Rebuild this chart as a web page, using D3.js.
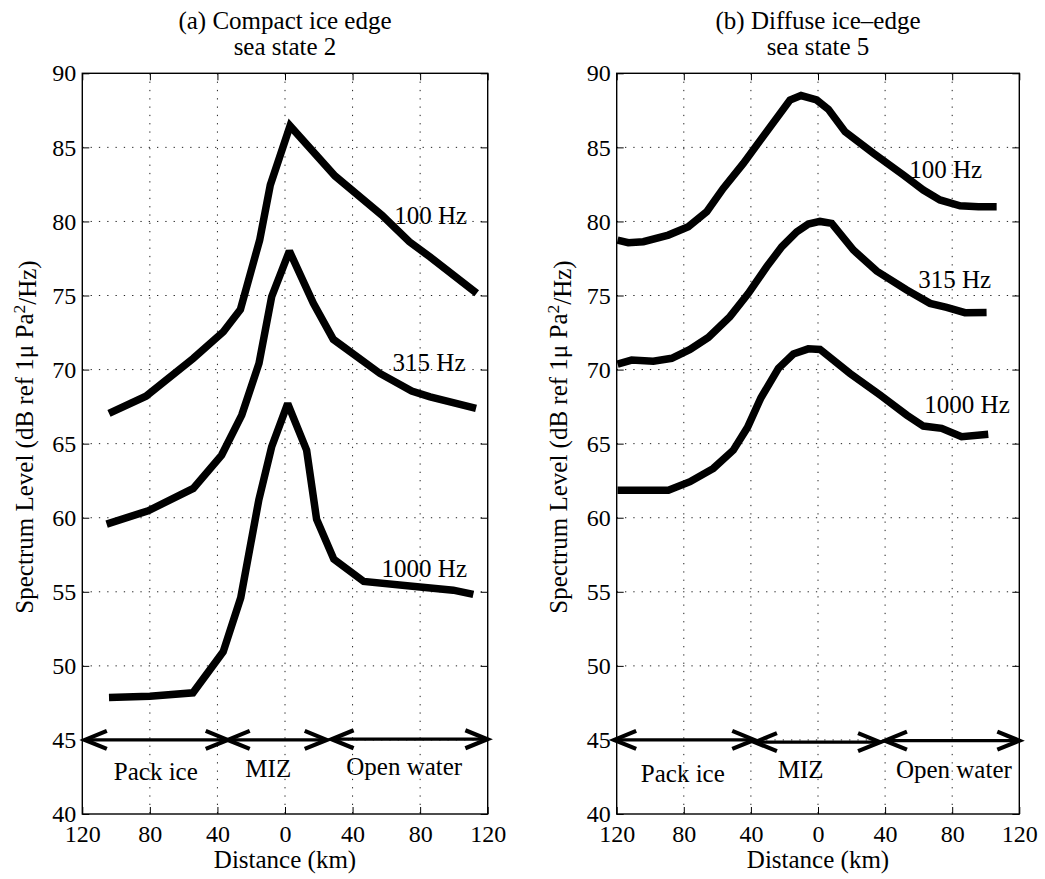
<!DOCTYPE html>
<html>
<head>
<meta charset="utf-8">
<script src="https://cdn.jsdelivr.net/npm/d3@7"></script>
<style>
  html, body { margin: 0; padding: 0; background: #fff; }
  svg { display: block; }
  text { font-family: "Liberation Serif", "Times New Roman", serif; fill: #000; }
</style>
</head>
<body>
<svg id="chart" width="1045" height="879"></svg>
<script>
// ---------------- data ----------------
const xTickValues = [-120, -80, -40, 0, 40, 80, 120];
const yTickValues = [40, 45, 50, 55, 60, 65, 70, 75, 80, 85, 90];

const panelTitles = [
  ["(a) Compact ice edge", "sea state 2"],
  ["(b) Diffuse ice\u2013edge", "sea state 5"]
];
const xLabel = "Distance (km)";
const seriesNames = ["100 Hz", "315 Hz", "1000 Hz"];
const regionNames = ["Pack ice", "MIZ", "Open water"];

// (a) compact ice edge, sea state 2 : [distance, level]
const compact100 = [[-104.2,67.04],[-82.3,68.2],[-54.3,70.76],[-36.5,72.55],[-26.4,74.06],[-15,78.74],[-8.7,82.46],[3,86.45],[29.6,83.07],[57.3,80.43],[73.6,78.63],[85.9,77.6],[113.5,75.15]];
const compact315 = [[-105.6,59.57],[-81,60.47],[-54.3,61.98],[-37.5,64.23],[-25.6,66.93],[-15.4,70.42],[-7.9,74.92],[2.6,78.0],[16.8,74.47],[28.6,72.04],[56.2,69.74],[75,68.55],[85.9,68.16],[113.1,67.38]];
const compact1000 = [[-104.2,47.87],[-80,47.95],[-54.5,48.18],[-36.6,50.95],[-26.2,54.6],[-15.5,61.2],[-7.9,64.79],[1.6,67.7],[12.8,64.56],[18.7,59.9],[28.9,57.2],[46.6,55.7],[79.9,55.33],[99.6,55.11],[111.5,54.82]];

// (b) diffuse ice edge, sea state 5
const diffuse100 = [[-119.5,78.74],[-113.1,78.57],[-104.1,78.63],[-89.2,79.08],[-77.3,79.64],[-66.3,80.66],[-56.5,82.23],[-44.5,83.92],[-16.7,88.2],[-10.1,88.5],[-0.8,88.2],[6.2,87.57],[16.1,86.06],[33,84.6],[50.9,83.13],[62.8,82.12],[72.7,81.45],[84.7,81.06],[95.6,81.0],[106.5,81.0]];
const diffuse315 = [[-119.5,70.37],[-111.1,70.64],[-98.2,70.57],[-87.2,70.76],[-76.3,71.36],[-65.4,72.17],[-52.5,73.57],[-41.5,75.15],[-30.6,76.94],[-21.6,78.29],[-12.7,79.3],[-5.8,79.82],[1.2,80.0],[8.2,79.87],[21.1,78.07],[35,76.65],[52.9,75.37],[66.8,74.47],[76.7,74.2],[87.6,73.84],[100.5,73.86]];
const diffuse1000 = [[-119.5,61.86],[-89.2,61.86],[-76.3,62.43],[-62.4,63.33],[-50.5,64.56],[-42,66.1],[-34,68.1],[-23.6,70.08],[-14.7,71.05],[-5.8,71.4],[1.2,71.36],[19.1,69.74],[37,68.28],[52.9,66.93],[62.8,66.19],[73.7,66.03],[85.6,65.47],[101.5,65.64]];

// region arrows: [from, to, level]
const compactRegions = [[-118.5,-33.9,45],[-33.9,24.7,45],[27.6,119.8,45.05]];
const diffuseRegions = [[-121.5,-38,45],[-37.6,37,44.85],[39.9,120,44.95]];

// annotation anchors in data units: [distance, level]
const compactSeriesLabelAt = [[64.7,79.82],[63.7,69.92],[57.2,56.0]];
const diffuseSeriesLabelAt = [[54.4,82.91],[59.8,75.48],[63.4,67.04]];
const compactRegionLabelAt = [[-76.5,42.28],[-9.9,42.5],[70.6,42.62]];
const diffuseRegionLabelAt = [[-80.6,42.17],[-10.3,42.4],[81,42.4]];

const panels = [
  { title: panelTitles[0], series: [compact100, compact315, compact1000], regions: compactRegions,
    seriesLabelAt: compactSeriesLabelAt, regionLabelAt: compactRegionLabelAt, left: 82.3, right: 487.7 },
  { title: panelTitles[1], series: [diffuse100, diffuse315, diffuse1000], regions: diffuseRegions,
    seriesLabelAt: diffuseSeriesLabelAt, regionLabelAt: diffuseRegionLabelAt, left: 616.7, right: 1019.3 }
];

// ---------------- drawing ----------------
const svg = d3.select("#chart");
const plotTop = 73.3, plotBottom = 814;
const FS = 25, TFS = 24;

panels.forEach(p => {
  const x = d3.scaleLinear().domain([-120, 120]).range([p.left, p.right]);
  const y = d3.scaleLinear().domain([40, 90]).range([plotBottom, plotTop]);
  const g = svg.append("g");
  const cx = (p.left + p.right) / 2;

  // grid
  g.append("g").selectAll("line").data(xTickValues.slice(1, -1)).join("line")
    .attr("x1", d => x(d)).attr("x2", d => x(d)).attr("y1", plotTop).attr("y2", plotBottom)
    .attr("stroke", "#222").attr("stroke-width", 1).attr("stroke-dasharray", "1.3,7");
  g.append("g").selectAll("line").data(yTickValues.slice(1, -1)).join("line")
    .attr("y1", d => y(d)).attr("y2", d => y(d)).attr("x1", p.left).attr("x2", p.right)
    .attr("stroke", "#222").attr("stroke-width", 1).attr("stroke-dasharray", "1.3,7");

  // axes
  const fmt = d => String(Math.abs(d));
  const xb = g.append("g").attr("transform", `translate(0,${plotBottom})`)
    .call(d3.axisBottom(x).tickValues(xTickValues).tickFormat(fmt).tickSizeInner(-7).tickSizeOuter(0).tickPadding(10.7));
  const yl = g.append("g").attr("transform", `translate(${p.left},0)`)
    .call(d3.axisLeft(y).tickValues(yTickValues).tickSizeInner(-7).tickSizeOuter(0).tickPadding(6));
  const xt = g.append("g").attr("transform", `translate(0,${plotTop})`)
    .call(d3.axisTop(x).tickValues(xTickValues).tickFormat("").tickSizeInner(-7).tickSizeOuter(0));
  const yr = g.append("g").attr("transform", `translate(${p.right},0)`)
    .call(d3.axisRight(y).tickValues(yTickValues).tickFormat("").tickSizeInner(-7).tickSizeOuter(0));
  [xb, yl, xt, yr].forEach(a => {
    a.select(".domain").remove();
    a.selectAll(".tick line").attr("stroke", "#000").attr("stroke-width", 1);
    a.selectAll("text").attr("font-family", '"Liberation Serif", serif').attr("font-size", TFS).attr("fill", "#000");
  });

  // frame
  g.append("rect").attr("x", p.left).attr("y", plotTop)
    .attr("width", p.right - p.left).attr("height", plotBottom - plotTop)
    .attr("fill", "none").attr("stroke", "#000").attr("stroke-width", 1.4);

  // series lines
  const line = d3.line().x(d => x(d[0])).y(d => y(d[1]));
  g.append("g").selectAll("path").data(p.series).join("path")
    .attr("d", line).attr("fill", "none").attr("stroke", "#000")
    .attr("stroke-width", 7.5).attr("stroke-linejoin", "miter").attr("stroke-miterlimit", 2)
    .attr("stroke-linecap", "butt");

  // series labels
  g.append("g").selectAll("text").data(seriesNames).join("text")
    .attr("x", (d, i) => x(p.seriesLabelAt[i][0])).attr("y", (d, i) => y(p.seriesLabelAt[i][1]))
    .attr("font-size", FS).text(d => d);

  // region arrows
  const ag = g.append("g");
  p.regions.forEach(r => {
    const x1 = x(r[0]), x2 = x(r[1]), yy = y(r[2]);
    ag.append("line").attr("x1", x1).attr("x2", x2).attr("y1", yy).attr("y2", yy)
      .attr("stroke", "#000").attr("stroke-width", 3.2);
    [[x1, 1], [x2, -1]].forEach(([tx, dir]) => {
      ag.append("polyline")
        .attr("points", `${tx + dir * 22},${yy - 9} ${tx},${yy} ${tx + dir * 22},${yy + 9}`)
        .attr("fill", "none").attr("stroke", "#000").attr("stroke-width", 4.2)
        .attr("stroke-linejoin", "miter").attr("stroke-linecap", "butt");
    });
  });
  g.append("g").selectAll("text").data(regionNames).join("text")
    .attr("x", (d, i) => x(p.regionLabelAt[i][0])).attr("y", (d, i) => y(p.regionLabelAt[i][1]))
    .attr("text-anchor", "middle").attr("font-size", FS).text(d => d);

  // titles
  g.append("text").attr("x", cx).attr("y", 29.3).attr("text-anchor", "middle").attr("font-size", FS).text(p.title[0]);
  g.append("text").attr("x", cx).attr("y", 55).attr("text-anchor", "middle").attr("font-size", FS).text(p.title[1]);

  // x label
  g.append("text").attr("x", cx).attr("y", 868.3).attr("text-anchor", "middle").attr("font-size", FS).text(xLabel);

  // y label
  const yt = g.append("text")
    .attr("transform", `translate(${p.left - 49.5},437) rotate(-90)`)
    .attr("text-anchor", "middle").attr("font-size", FS);
  yt.append("tspan").text("Spectrum Level (dB ref 1\u03bc Pa");
  yt.append("tspan").attr("dy", "-0.45em").attr("font-size", FS * 0.7).text("2");
  yt.append("tspan").attr("dy", "0.45em").text("/Hz)");
});
</script>
</body>
</html>
